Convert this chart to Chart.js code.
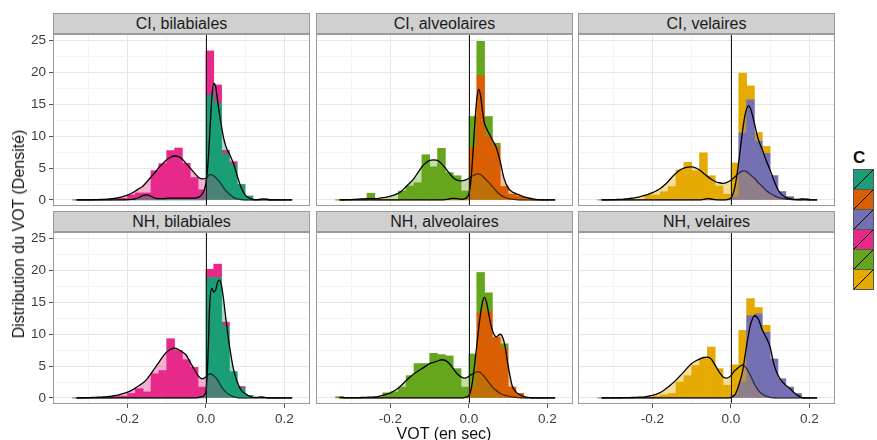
<!DOCTYPE html>
<html>
<head>
<meta charset="utf-8">
<script src="https://cdn.jsdelivr.net/npm/chart.js@4.4.1/dist/chart.umd.min.js"></script>
<style>
  body { margin: 0; background: #fff; font-family: "Liberation Sans", Arial, sans-serif; }
  #fig { position: relative; width: 877px; height: 440px; overflow: hidden; background: #fff; }
  #fig canvas { position: absolute; }
  .strip { position: absolute; box-sizing: border-box; background: #d0d0d0; border: 1px solid #9a9a9a;
           font-size: 16px; color: #1a1a1a; text-align: center; line-height: 19px; }
  .key { position: absolute; box-sizing: border-box; width: 21px; height: 21px; border: 1px solid #555; }
  .ttl { position: absolute; font-size: 16px; color: #111; white-space: nowrap; }
</style>
</head>
<body>
<div id="fig"></div>
<script>
// histogram bins: centre of each 0.02-wide bin (VOT in s)
const binX = [-0.33,-0.31,-0.29,-0.27,-0.25,-0.23,-0.21,-0.19,-0.17,-0.15,-0.13,-0.11,-0.09,-0.07,-0.05,-0.03,-0.01,
              0.01,0.03,0.05,0.07,0.09,0.11,0.13,0.15,0.17,0.19];

// histogram densities (sonore = voiced group, sourde = voiceless group)
const ciBilSon = [0,0,0,0,0, 0.25,0.25,0.8,1.1,1.1, 4.6,5.7,7.75,8.15,5.75, 3.5,1.6,6.9,2.85,0.7, 0.5,0,0,0,0, 0,0];
const ciBilSou = [0,0,0,0,0, 0,0,0,0,0, 0,0,0,0,0, 0,0,16.5,15.2,7.1, 5.5,2.4,0.6,0,0.15, 0,0];
const ciAlvSon = [0,0,0,0,1.05, 0,0,0,1.4,2.2, 2.7,7.1,5.2,8.1,4.3, 3.8,1.4,4.9,5.4,3.2, 0.5,0,0,0,0, 0,0];
const ciAlvSou = [0,0,0,0,0, 0,0,0,0,0, 0,0,0,0,0, 0,0,8.2,19.5,9.9, 8.4,2.1,0.9,0.6,0.3, 0,0];
const ciVelSon = [0,0,0,0,0, 0,0.8,0.8,1.3,2.1, 4.7,5.9,4.6,7.4,3.8, 2.2,0.9,5.3,9.4,2.2, 1.4,1.1,0,0,0, 0,0];
const ciVelSou = [0,0,0,0,0, 0,0,0,0,0, 0,0,0,0,0, 0,0,0.5,10.5,15.7, 9.2,7.3,3.8,1.3,0.5, 0,0.2];
const nhBilSon = [0,0,0,0,0, 0.3,0.3,0.7,1.45,0.95, 3.8,4.3,9.3,7.45,6.0, 4.8,1.7,1.3,2.1,0.7, 0,0.2,0,0,0, 0,0];
const nhBilSou = [0,0,0,0,0, 0,0,0,0,0, 0,0,0,0,0, 0,0,18.9,18.9,11.2, 4.1,1.6,0.4,0.1,0.1, 0,0];
const nhAlvSon = [0.2,0,0,0,0, 0,0.8,0.95,1.7,3.5, 5.4,5.4,7.0,6.8,6.6, 4.6,1.7,5.1,6.3,3.0, 0,0.8,0,0,0, 0,0];
const nhAlvSou = [0,0,0,0,0, 0,0,0,0,0, 0,0,0,0,0, 0,0,1.8,13.4,13.5, 9.5,7.7,1.7,0.7,0.1, 0,0];
const nhVelSon = [0,0,0,0,0, 0,0,0.3,0.5,0.7, 2.5,3.5,5.1,6.25,8.0, 4.6,2.0,4.7,8.1,2.7, 1.0,1.1,0,0,0, 0,0];
const nhVelSou = [0,0,0,0,0, 0,0,0,0,0, 0,0,0,0,0, 0,0,0.5,2.5,12.9, 13.2,10.3,6.1,3.0,1.7, 0.7,0];

// x positions where the density curves were read
const densX = [-0.33,-0.32,-0.31,-0.30,-0.29,-0.28,-0.27,-0.26,-0.25,-0.24,-0.23,-0.22,-0.21,-0.20,-0.19,-0.18,-0.17,
               -0.16,-0.15,-0.14,-0.13,-0.12,-0.11,-0.10,-0.09,-0.08,-0.07,-0.06,-0.05,-0.04,-0.03,-0.02,-0.01,
               0,0.005,0.01,0.015,0.02,0.025,0.03,0.035,0.04,0.045,0.05,0.055,0.06,
               0.07,0.08,0.09,0.10,0.11,0.12,0.13,0.14,0.15,0.16,0.17,0.18,0.19,0.20,0.21,0.22];

const ciBilDensSon = [0,0,0.01,0.02,0.03,0.05,0.07,0.1,0.14,0.2,0.28,0.4,0.55,0.75,1.05,1.4,1.8,2.2,2.9,3.6,4.3,5.1,5.7,6.3,6.7,6.9,6.8,6.4,5.7,5.0,4.3,3.6,3.3,
  3.4,3.7,4.0,3.95,3.8,3.5,3.2,2.8,2.4,1.95,1.5,1.2,0.9,
  0.4,0.15,0.05,0.02,0,0,0,0,0,0,0,0,0,0,0,0];
const ciBilDensSou = [0,0,0,0,0,0,0,0,0,0,0.01,0.02,0.03,0.04,0.08,0.15,0.4,0.7,0.8,0.55,0.3,0.2,0.2,0.25,0.3,0.3,0.3,0.3,0.3,0.3,0.3,0.4,0.9,
  2.6,5.5,10.5,16,18.3,17.8,15.5,13.3,11.5,9.8,8.6,7.8,7.2,
  5.8,3.8,1.9,0.8,0.3,0.1,0.06,0.12,0.12,0.03,0,0,0,0,0,0];
const ciAlvDensSon = [0,0.02,0.04,0.06,0.1,0.14,0.18,0.2,0.2,0.2,0.25,0.35,0.45,0.6,0.8,1.05,1.5,2.1,2.7,3.4,4.3,5.2,5.8,6.2,6.3,6.2,5.7,5.0,4.2,3.5,3.1,3.0,3.1,
  3.4,3.6,3.8,3.95,4.1,4.1,4.0,3.75,3.4,3.1,2.8,2.45,2.1,
  1.4,0.8,0.45,0.25,0.12,0.05,0.02,0,0,0,0,0,0,0,0,0];
const ciAlvDensSou = [0,0,0,0,0, 0,0,0,0,0, 0,0,0,0,0, 0,0,0,0,0, 0,0,0,0,0, 0,0,0.05,0.15,0.25,0.2,0.1,0.2,
  1.0,3.0,7.0,12.0,15.8,17.4,16.3,13.8,12.0,11.2,10.6,10.0,9.4,
  8.2,6.0,3.3,1.9,1.3,1.0,0.75,0.5,0.35,0.2,0.1,0.05,0,0,0,0];
const ciVelDensSon = [0,0.02,0.03,0.05,0.07,0.1,0.15,0.2,0.3,0.4,0.55,0.7,0.9,1.15,1.45,1.8,2.3,2.9,3.6,4.2,4.7,5.0,5.15,5.2,5.05,4.7,4.2,3.7,3.25,2.9,2.7,2.6,2.75,
  3.1,3.35,3.6,3.9,4.2,4.4,4.55,4.55,4.45,4.2,3.9,3.65,3.4,
  2.7,2.1,1.5,1.05,0.7,0.4,0.25,0.15,0.08,0.05,0.02,0,0,0,0,0];
const ciVelDensSou = [0,0,0,0,0, 0,0,0,0,0, 0,0,0,0,0, 0,0,0,0,0, 0,0,0,0,0, 0,0.1,0.2,0.15,0.05,0,0,0.05,
  0.3,0.9,2.0,3.8,6.0,8.5,11.0,13.0,14.3,14.8,14.3,13.3,12.0,
  9.5,7.9,6.2,4.7,3.0,1.6,0.8,0.4,0.2,0.1,0.1,0.15,0.1,0.03,0,0];
const nhBilDensSon = [0,0.02,0.03,0.05,0.07,0.1,0.13,0.17,0.22,0.3,0.4,0.52,0.7,0.9,1.2,1.55,1.95,2.4,3.0,3.8,4.7,5.6,6.5,7.2,7.65,7.8,7.6,7.2,6.7,5.6,4.5,3.5,3.0,
  3.3,3.6,3.8,3.7,3.5,3.2,2.8,2.25,1.7,1.3,0.95,0.7,0.5,
  0.2,0.05,0,0,0,0,0,0,0,0,0,0,0,0,0,0];
const nhBilDensSou = [0,0,0,0,0, 0,0,0,0,0, 0,0,0,0,0, 0,0,0,0,0, 0,0,0,0,0, 0,0,0,0,0, 0,0.05,0.2,
  1.0,6.0,15.0,17.2,16.6,17.0,18.2,18.5,17.6,15.5,12.9,10.4,8.2,
  4.6,2.5,1.2,0.7,0.3,0.1,0.08,0.15,0.1,0.02,0,0,0,0,0,0];
const nhAlvDensSon = [0.1,0.08,0.05,0.05,0.05,0.06,0.08,0.1,0.12,0.15,0.25,0.4,0.6,0.8,1.15,1.55,2.1,2.75,3.3,3.8,4.2,4.6,5.0,5.4,5.6,5.8,6.0,5.9,5.4,4.6,3.8,3.3,3.1,
  3.4,3.6,3.8,3.95,4.1,4.1,3.95,3.65,3.3,2.9,2.5,2.1,1.7,
  1.15,0.7,0.45,0.3,0.18,0.1,0.04,0,0,0,0,0,0,0,0,0];
const nhAlvDensSou = [0,0,0,0,0, 0,0,0,0,0, 0,0,0,0,0, 0,0,0,0,0, 0,0,0,0,0, 0,0,0,0,0, 0,0,0.1,
  0.4,1.2,3.0,5.5,8.2,11.0,13.4,15.2,15.8,15.0,13.4,11.8,10.6,
  9.6,10.0,8.75,5.1,2.0,0.95,0.5,0.2,0.1,0.03,0,0,0,0,0,0];
const nhVelDensSon = [0,0,0.01,0.01,0.02,0.03,0.04,0.05,0.07,0.1,0.12,0.18,0.28,0.4,0.6,0.85,1.25,1.7,2.25,2.8,3.45,4.1,4.8,5.4,5.8,6.1,6.35,6.4,6.1,5.1,4.1,3.3,3.1,
  3.5,3.9,4.3,4.55,4.8,5.05,5.2,5.0,4.6,4.1,3.5,2.85,2.2,
  1.2,0.6,0.3,0.1,0.03,0,0,0,0,0,0,0,0,0,0,0];
const nhVelDensSou = [0,0,0,0,0, 0,0,0,0,0, 0,0,0,0,0, 0,0,0,0,0, 0,0,0,0,0, 0,0,0,0,0, 0,0,0,
  0.1,0.25,0.5,1.1,2.0,3.0,4.3,6.2,8.2,10.0,11.5,12.4,12.9,
  12.4,10.7,9.5,8.0,5.2,3.6,2.6,2.0,1.5,0.9,0.4,0.1,0,0,0,0];

// legend categories (C) and their colours
const catColors = ['#1B9E77','#D95F02','#7570B3','#E7298A','#66A61E','#E6AB02'];

// axis ticks
const xMajor = [-0.2, 0, 0.2];
const xGrid = [-0.3, -0.2, -0.1, 0, 0.1, 0.2];
const yMajor = [0, 5, 10, 15, 20, 25];
const yGrid = [0, 2.5, 5, 7.5, 10, 12.5, 15, 17.5, 20, 22.5, 25];
const vline = 0;

const panels = [
  { title: 'CI, bilabiales',  son: ciBilSon, sou: ciBilSou, dSon: ciBilDensSon, dSou: ciBilDensSou, cSon: catColors[3], cSou: catColors[0] },
  { title: 'CI, alveolaires', son: ciAlvSon, sou: ciAlvSou, dSon: ciAlvDensSon, dSou: ciAlvDensSou, cSon: catColors[4], cSou: catColors[1] },
  { title: 'CI, velaires',    son: ciVelSon, sou: ciVelSou, dSon: ciVelDensSon, dSou: ciVelDensSou, cSon: catColors[5], cSou: catColors[2] },
  { title: 'NH, bilabiales',  son: nhBilSon, sou: nhBilSou, dSon: nhBilDensSon, dSou: nhBilDensSou, cSon: catColors[3], cSou: catColors[0] },
  { title: 'NH, alveolaires', son: nhAlvSon, sou: nhAlvSou, dSon: nhAlvDensSon, dSou: nhAlvDensSou, cSon: catColors[4], cSou: catColors[1] },
  { title: 'NH, velaires',    son: nhVelSon, sou: nhVelSou, dSon: nhVelDensSon, dSou: nhVelDensSou, cSon: catColors[5], cSou: catColors[2] }
];

// layout
const colLeft = [53, 316, 578], rowTop = [34, 232];
const panelW = 257, panelH = 172, axisW = 53, axisH = 36;

Chart.defaults.font.family = '"Liberation Sans", Arial, sans-serif';

function pts(xs, ys) { return xs.map((x, i) => ({ x: x, y: ys[i] })); }
function fade(hex, a) {
  const n = parseInt(hex.slice(1), 16);
  return 'rgba(' + (n >> 16) + ',' + ((n >> 8) & 255) + ',' + (n & 255) + ',' + a + ')';
}
function isMajor(c, list) { return !!(c && c.tick) && list.includes(c.tick.value); }

const panelFrame = {
  id: 'panelFrame',
  afterDatasetsDraw(chart) {
    const ctx = chart.ctx, a = chart.chartArea;
    const zx = Math.round(chart.scales.x.getPixelForValue(vline)) + 0.5;
    ctx.save();
    ctx.strokeStyle = '#1a1a1a';
    ctx.lineWidth = 1;
    ctx.beginPath(); ctx.moveTo(zx, a.top); ctx.lineTo(zx, a.bottom); ctx.stroke();
    ctx.strokeStyle = '#9a9a9a';
    ctx.strokeRect(a.left + 0.5, a.top + 0.5, a.right - a.left - 1, a.bottom - a.top - 1);
    ctx.restore();
  }
};

const fig = document.getElementById('fig');

panels.forEach((p, i) => {
  const row = Math.floor(i / 3), col = i % 3;
  const leftAxis = col === 0, bottomAxis = row === 1;

  const strip = document.createElement('div');
  strip.className = 'strip';
  strip.style.left = colLeft[col] + 'px';
  strip.style.top = (rowTop[row] - 21) + 'px';
  strip.style.width = panelW + 'px';
  strip.style.height = '21px';
  strip.textContent = p.title;
  fig.appendChild(strip);

  const cv = document.createElement('canvas');
  cv.width = panelW + (leftAxis ? axisW : 0);
  cv.height = panelH + (bottomAxis ? axisH : 0);
  cv.style.left = (colLeft[col] - (leftAxis ? axisW : 0)) + 'px';
  cv.style.top = rowTop[row] + 'px';
  fig.appendChild(cv);

  new Chart(cv, {
    data: {
      datasets: [
        { type: 'bar', label: 'sourde', data: pts(binX, p.sou), backgroundColor: p.cSou, stack: 'hist', order: 3,
          barPercentage: 1, categoryPercentage: 1, borderWidth: 0 },
        { type: 'bar', label: 'sonore', data: pts(binX, p.son), backgroundColor: p.cSon, stack: 'hist', order: 4,
          barPercentage: 1, categoryPercentage: 1, borderWidth: 0 },
        { type: 'line', label: 'densité sonore', data: pts(densX, p.dSon), stack: 'd1', order: 2,
          borderColor: '#000', borderWidth: 1.3, backgroundColor: fade(p.cSon, 0.38), fill: 'origin',
          pointRadius: 0, cubicInterpolationMode: 'monotone' },
        { type: 'line', label: 'densité sourde', data: pts(densX, p.dSou), stack: 'd2', order: 1,
          borderColor: '#000', borderWidth: 1.3, backgroundColor: fade(p.cSou, 0.38), fill: 'origin',
          pointRadius: 0, cubicInterpolationMode: 'monotone' }
      ]
    },
    options: {
      responsive: false,
      animation: false,
      devicePixelRatio: 1,
      layout: { padding: 0 },
      plugins: { legend: { display: false }, tooltip: { enabled: false } },
      scales: {
        x: {
          type: 'linear', min: -0.39, max: 0.2655, stacked: true, offset: false,
          afterBuildTicks: s => { s.ticks = xGrid.map(v => ({ value: v })); },
          afterFit: s => { s.height = bottomAxis ? axisH : 0; s.paddingLeft = 0; s.paddingRight = 0; },
          border: { display: false },
          grid: {
            offset: false,
            color: c => isMajor(c, xMajor) ? '#e6e6e6' : '#f4f4f4',
            drawTicks: bottomAxis, tickLength: 4,
            tickColor: c => isMajor(c, xMajor) ? '#555' : 'rgba(0,0,0,0)'
          },
          ticks: {
            display: bottomAxis, autoSkip: false, maxRotation: 0, padding: 3, color: '#3c3c3c',
            font: { size: 13.5 },
            callback: v => xMajor.includes(v) ? v.toFixed(1) : ''
          }
        },
        y: {
          type: 'linear', min: -0.95, max: 26.05, stacked: true,
          afterBuildTicks: s => { s.ticks = yGrid.map(v => ({ value: v })); },
          afterFit: s => { s.width = leftAxis ? axisW : 0; s.paddingTop = 0; s.paddingBottom = 0; },
          border: { display: false },
          grid: {
            color: c => isMajor(c, yMajor) ? '#e6e6e6' : '#f4f4f4',
            drawTicks: leftAxis, tickLength: 4,
            tickColor: c => isMajor(c, yMajor) ? '#555' : 'rgba(0,0,0,0)'
          },
          ticks: {
            display: leftAxis, autoSkip: false, padding: 3, color: '#3c3c3c',
            font: { size: 13.5 },
            callback: v => yMajor.includes(v) ? String(v) : ''
          }
        }
      }
    },
    plugins: [panelFrame]
  });
});

// axis titles
const xt = document.createElement('div');
xt.className = 'ttl';
xt.textContent = 'VOT (en sec)';
xt.style.left = '444px';
xt.style.top = '425px';
xt.style.transform = 'translateX(-50%)';
fig.appendChild(xt);

const yt = document.createElement('div');
yt.className = 'ttl';
yt.textContent = 'Distribution du VOT (Densité)';
yt.style.left = '19px';
yt.style.top = '234px';
yt.style.transform = 'translate(-50%,-50%) rotate(-90deg)';
fig.appendChild(yt);

// legend (labels fall outside the picture)
const lt = document.createElement('div');
lt.className = 'ttl';
lt.style.left = '853px';
lt.style.top = '148px';
lt.style.fontWeight = 'bold';
lt.style.fontSize = '17px';
lt.textContent = 'C';
fig.appendChild(lt);

catColors.forEach((c, k) => {
  const key = document.createElement('div');
  key.className = 'key';
  key.style.left = '853px';
  key.style.top = (169 + 20 * k) + 'px';
  key.style.background = c;
  key.innerHTML = '<svg width="19" height="19" style="display:block"><line x1="0" y1="19" x2="19" y2="0" stroke="#000" stroke-width="1"/></svg>';
  fig.appendChild(key);
});
</script>
</body>
</html>
